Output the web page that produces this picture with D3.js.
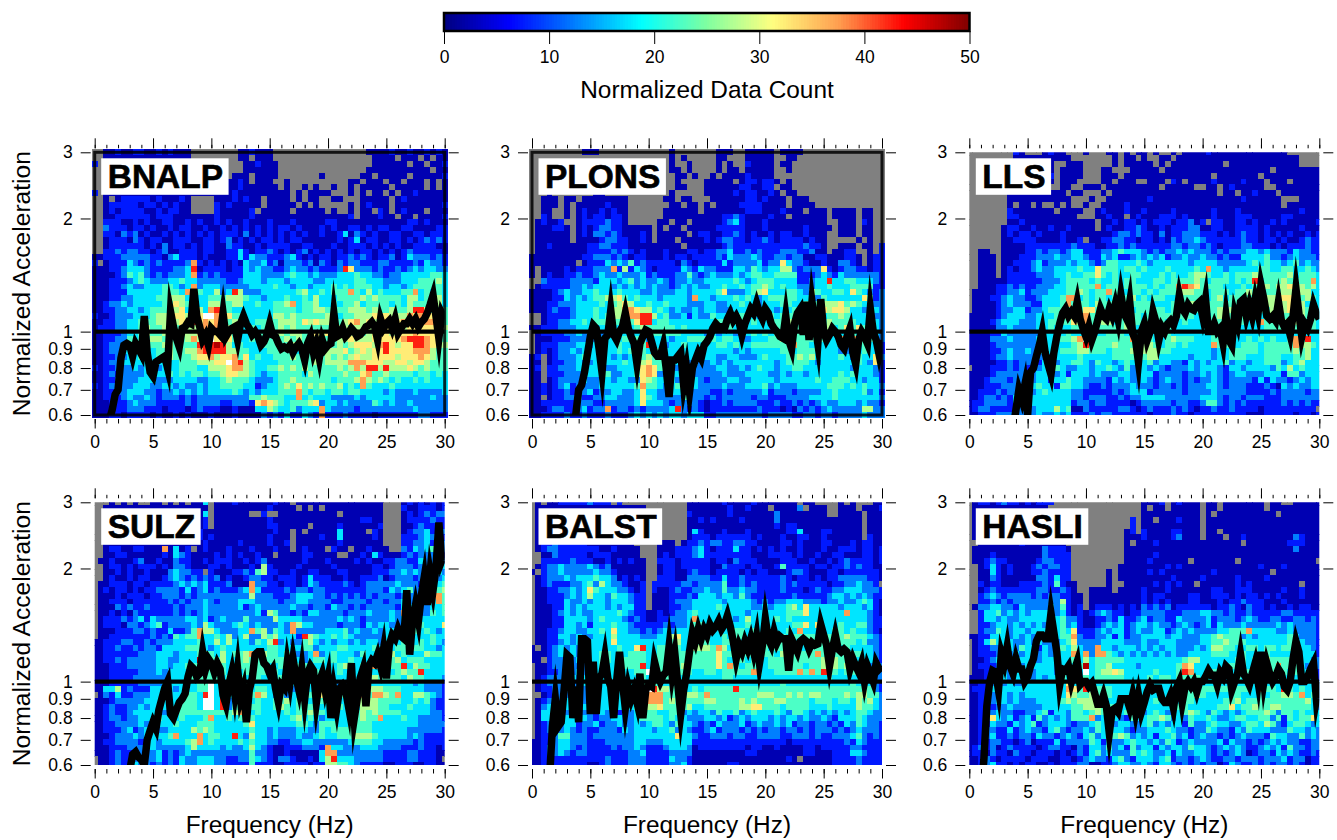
<!DOCTYPE html>
<html lang="en">

<head>
  <meta charset="UTF-8">
  <title>Normalized acceleration</title>
  <script src="https://d3js.org/d3.v7.min.js"></script>
  <style>
    body { margin: 0; background: #fff; }
    text { font-family: "Liberation Sans", Arial, sans-serif; fill: #000; }
    .tick line { stroke: #000; stroke-width: 1; }
  </style>
</head>

<body>
  <div id="my_dataviz"></div>
  <script>

    // frequency bins (Hz), line samples (Hz), tick values
    const freqBins = d3.range(0, 30.5, 0.5);
    const lineFreqs = d3.range(0, 30.25, 0.25);
    const xMajor = [0, 5, 10, 15, 20, 25, 30];
    const xMinor = d3.range(0, 31, 1);
    const yTicks = [0.6, 0.7, 0.8, 0.9, 1, 2, 3];
    const barTicks = [0, 10, 20, 30, 40, 50];

    // jet-like colour bar stops
    const barStops = [0, 6.25, 12.5, 18.75, 25, 31.25, 37.5, 43.75, 50];
    const barColors = ["#00007f", "#0000ff", "#007fff", "#00ffff", "#7fffa0", "#ffff80", "#ff9f50", "#ff0000", "#7f0000"];

    // top row (3) to bottom row (0.6), one char per 0.5 Hz bin:
    // digit d = count about 5d+2.5, "." = no data, "w" = above 50
    const countsBNALP = `
..00100110 0101000... .....00100 0......... .......000 0100100101 0
..00000000 0000000... .....00.00 0......... ........00 00.000.0.0 0
1.00000000 0000000... ......0010 00........ ........00 0000.00.00 1
..00000000 0000000... ......0000 00........ .......000 00000000.0 0
..00000000 0000000000 ....000.00 00.......0 ......00.0 0000.00000 1
..00000000 0000000000 ..00010.00 0..0...... ....00.000 .00.000.0. 0
..00000000 0000000000 0000010000 00.0..0.0. .0..0.0000 0.00000.0. 0
1.00000000 0000000000 0000100000 0000.0.000 0...0.0.00 .0.0010000 0
..0.011111 0100010... .00010100. 0000.0.00. .00...0000 0.01000000 0
..01111101 1010100... .10100000. 00000.0.0. ....0.0100 0.00000000 1
..01011110 0101100... .1000001.0 0000.00000 .0..0.00.1 0.01000.00 0
..00111111 0111000000 0100000100 0000000000 00001.0001 00.00.0000 1
..11100101 0011001010 0101001000 1000100000 1100000000 0000110100 0
..21110110 1001011001 0010101010 1011010001 0100110101 1001100001 1
..11021201 0010101010 1011102010 1010101001 0013021010 0110011011 1
..01110210 1100111001 1012010101 1010110000 0010130110 0110101212 1
..01111110 1020110101 1002110010 1111001100 0100111010 1010011110 0
..11212211 0120011101 1001131011 2101012010 1010101101 0101211111 0
0011122222 1102311101 0001131322 1112310101 1011212101 1201322212 1
1.01113212 1211112710 1010103223 1202221202 1021221112 2111121322 1
0001123332 1111223801 1110113232 2112322121 1128622212 1121232332 2
0000124342 1212223712 1211113332 2223433232 2233343322 1223333344 3
0001112343 2223343322 2221123332 3332333322 3333344333 2223334445 3
0001123223 3344323723 3322222333 3433233233 3434344433 2332344444 3
0001113333 3344437743 3523852223 3333345334 3444743534 3334473434 3
0001122333 3445553533 4445554332 3334334353 3344445454 4443553445 3
0012232333 3344654633 5544553343 3445734453 3434453444 4343544445 3
0011223323 4445563853 7864333333 3444434455 4344555454 4544588643 4
1001222333 4554665 66w w756443333 3554544444 5434455565 6555767664 4
0011223344 4555566867 6754543344 4455546565 5545675656 7667887775 4
0111223345 4454455587 7745553434 4454544444 4455455565 6555666665 5
0011123345 4456555566 6655433444 4454554565 6545554565 6566676665 4
0011224344 5544445753 w666433433 4445454554 4455655566 6667888765 4
0012233333 4455444488 8985343334 4444544645 5454566657 8656688765 5
0012233344 3445445578 8885544333 4444334445 5556456566 8666677754 4
0011223343 3445444566 7566746343 3444544454 5454565566 6656667654 4
0012233333 3333344455 566w785433 3344444454 5555777666 5566566544 4
1011222323 3233344433 5556775433 4454545444 4454575885 8555654544 4
0012122223 3334343443 4456655432 3344443544 4445446744 5444434434 3
0011222233 3222333322 3345444322 2344544444 4344457545 4343343433 3
1012122333 2233232232 3344443312 3345464545 4453437433 3433333333 3
0011223332 2122323232 3333432323 3344474344 3443443333 2322232222 3
0011123223 2122212122 2222222445 4443373433 3222232333 3322222232 2
0001112322 2111112122 2211222167 6543444562 3323222243 2322322222 2
0001112221 1101110121 1100100033 5433423337 3222212222 2222232222 2
0001101111 0100101000 1000100002 1213113217 1112111101 1111112211 1`;

    const countsPLONS = `
.........0 00........ ....0..... ..000..000 00.0000... .......... .
.......... .......... ....0.0... ..00...000 00..00.... .......... .
.......... .......... ....0..0.. ..0.0..100 00.00..... .......... .
.......... .......... ....00.0.. ..0.00.000 00..0..... .......... .
.......... .......... .....00.0. .0.0000100 00........ .......... .
.......... .......... .....0.... 00000.0110 110.0..... .......... .
.......... .......... .....00... 0000001100 11.00..... .......... .
...0...... .00....... ....0..... 0000010110 010.00.... .......... .
..000.00.0 0000000... ...00.00.. .000000110 1000.000.. .......... .
..000.0.00 0001000... ....00.00. 0.00001111 0000.0000. .......... .
..00..0.01 0010100... ...000000. 0000000111 0001000.00 0.0000.00. .
..10..0.01 0110110... ...0000000 0001121000 0100.00000 0.0000.00. .
.01001..01 1112110... ..00.00.00 0001231000 1000000000 0..000.10. .
.000110.01 0122110000 0.0.00.000 0011111000 1000000100 00.000.00. .
.000000.01 0221210001 0.00000.01 1001121010 0101100100 0..000.00. .
.000000.00 0012211001 0.000.0000 1012211011 2101111010 0.....0.0. .
.001000000 1122111000 000000.000 0001211111 1111111211 0..000.00. 1
.000000000 1111212101 0001000110 1122311212 1112221120 0.0011..0. 1
0000000001 1222121011 0001011011 1121322232 1122122001 1000110.01 1
00000000.0 1113232412 1111102101 1113122223 1226322100 1002210.01 1
0.00001011 1222715132 1011113213 2211133243 2335521222 6101221101 1
0.01001121 1232232223 1211122421 2322232344 3344441112 3213222222 1
..21111222 2133323423 2232122322 3333343234 4433331123 3833443332 1
.011111223 2333232323 2322123232 2334334344 5434332223 3433344441 1
0000123223 3433343332 2322233233 3346222345 6333443254 3344364321 2
0000113232 3445564343 3323333273 3233343432 3444443372 4333333641 2
0001122233 3343456533 4334333222 3322334332 3334433454 5556454342 2
0001211233 3433557765 5343232232 3322233323 3323344445 6566533233 2
..01111233 3434557778 8534223132 2433444332 3434444443 3445433332 2
..01122334 3444444468 8344333333 3344444343 3344554444 4544443343 2
0011122233 3233333345 4444434333 3334433333 3344444554 4534646443 2
.011112232 3323323234 5444443333 2323323343 4343444453 3323343433 2
.000111222 2233334444 2333233444 4434432233 3445544444 4337373443 2
.011122233 2333343344 8332334333 3344343344 4444474433 3333233433 1
.010122323 3333343444 3443333333 3333323233 3334434443 3332233433 1
01.0122234 3323232334 5443323333 3322332223 4333445453 3334324336 2
00.0112232 2333334345 6443333232 2323233333 3323444432 3333334326 1
01.1122233 3332233346 7643323322 2233223234 3323344333 3333323332 1
00.1112222 3334223346 7622333222 2223222333 3223233233 3334343332 1
00.0122223 2233233226 5433323332 1222332233 3323333334 3344433233 1
0010123122 2233333347 4432343432 2223222333 4232223333 3444343433 2
0010112122 3122332236 3322334422 2112122222 3122212222 3343333423 1
00.0112221 1223322236 4322224322 1212222212 2111222233 3343333333 2
0011111122 2112222236 3332122221 0112122221 1121121212 3223332322 1
0001221123 1227122121 2222382121 0111111112 1110102121 2322222552 2
0011112112 1112111232 3232332333 1122222222 1222211221 2212222322 2`;

    const countsLLS = `
........10 ...0100... 0...00.0.0 0.0..0.000 0100000000 00000.... .
........00 00000000.. .....0.00. 0..00.0000 0000000000 0000000... .
........00 00000..000 .....0.000 00.0.00000 0000.00000 0000000... .
........00 00000.0000 ...00...00 000.000000 0000000000 00.0000000 0
........00 00001.0000 ...000.000 0000000000 00.0000000 .000000000 0
........00 00000.000. ...00.000. .000.10.00 0010000100 0.000.0000 0
........00 0000..00.. 000.000000 000.00000. .00.010000 0..0000000 0
.......000 0000000.00 ...0.00000 0000000000 000.00.001 000.000000 0
.......000 00000000.. .0..000000 0100000000 0000000100 0000...000 0
.......0.0 0.0..0.0.. 0..0000100 0000000000 0000000000 0000.00000 0
.......100 00000.0000 ..01000100 1000010000 0010001000 0000000100 0
.......110 000000000. ..00100.01 0001110100 0010001110 0000110000 0
.......001 0000000000 00.0010110 1011101120 1.11001101 0010100000 1
......0110 0100100100 00.0100112 1001011122 0011001111 0100000100 0
......0101 1010001000 0000012212 1102011222 1110101211 0101010010 1
......0011 1100001001 .001122110 1101021223 2111111211 0110100121 1
......0000 1111111121 1100112121 1111122122 1210111221 1101011121 1
..00..0000 1121221233 1112234333 2121223232 2212122233 2322213221 1
..000.0001 1122232233 2113231123 2323122322 3221211333 3422123222 1
..000.0011 1231222323 3212443334 3233333323 3332222234 3433234232 2
..000.0101 1232233334 3364443443 4333433334 3733233333 4433443343 2
..000.0111 1122233433 4464343344 3334343345 5433434445 4444453444 3
..00000111 1112223444 4343343443 3344344445 4344434348 3444544447 3
..00011212 1122233444 4473443444 4343447876 4444333434 4545565545 3
.000011223 1222333445 4344743344 3434445554 4344434454 4444555553 3
.000112322 1123334773 4344344453 4344334444 4345344444 4555665454 3
.000012322 2113334744 4354443444 4433344455 5444444455 4555565536 3
.000012233 1223444454 6644344434 4444344444 4445453343 4455565544 3
0000012333 2233345559 7444534344 3444444443 3345443434 3544445544 3
0000123332 2233444465 7445534544 3444333433 3344474433 7444555534 3
0000022322 2233433344 4444444543 3344433333 3344443333 3444444444 3
0000113222 2223333433 3333444343 3333433333 3344433333 3333343433 3
0000222322 2233334457 w444444474 5433454443 3344433343 4343347483 3
0000122222 2233333345 8444454445 5543443433 3374433444 3444447554 3
0000112322 3233334445 5444344454 5554433333 3323344444 3444445453 3
0000122322 2222233334 3333344444 4553333323 3323344433 3444334453 3
0000011212 2213323344 3243323432 3423322132 3233423323 3444234533 3
.000111212 1223343223 3233432422 3232122232 3332133233 3324353433 3
0000122222 1233323133 3232223322 3312222122 3232123322 2333144233 3
0001222122 2233133433 2222132322 3212322121 2232122221 3132212323 3
0001112222 2343314433 2112122232 2212212122 2332122211 1210323223 3
0011121222 2234333322 1111121233 3122222122 2232222211 1121222212 2
0012212133 3333333322 1222112122 3333222222 3332122122 2111222222 2
0112222132 3333333312 2122111101 2222212211 2442121211 1111212121 1
0122111112 3233353400 2111112210 1211121210 1121121111 0111111111 .
0011122232 3232232311 1212211111 1011121101 1111111100 0111110110 1`;

    const countsSULZ = `
...0.0.0.. 00.0.0.003 .000100000 0100.00000 0000000000 ...0101010 1
..00000000 0000000000 .000000000 10000.0.0. 0000000000 ...1001110 1
..00000000 0000000003 .000000..1 ..00000000 00.0000000 ...0101212 2
..00000000 0000000001 .000000000 1000000000 0000001100 ...0111121 1
..00000000 0000000001 .000000000 1100000.00 0010000001 ...0012111 1
..00000000 0000000010 0000000000 0100.0.000 0030000.10 ...0122313 2
..00000000 0000000010 1000000000 1000.00001 0030000010 ...1112322 1
..00000000 0000000001 0000010000 1001.00000 0010000000 ...1122311 2
..01100110 0070301.01 0001000100 0100.01000 .100.00100 0..2132344 2
..00110000 0010321000 0101010010 0.00001100 00..001031 0001212221 1
.001000120 0100211001 0111001012 0000001000 1000010100 1122113223 2
..01101011 1010221000 1101000105 1000010000 0100000011 0122212233 3
..00101001 000232211. 1000112145 1100100110 0011000011 1223232233 2
..01001011 0012321212 1201001221 1011101311 1001001112 0122212332 3
.001110110 1111232323 1112000722 1101101321 1112101222 2232221343 4
.010110101 1222213123 1211123731 1112122122 1111111222 1323422444 5
.000101110 1122212122 2222222522 2111233322 1212121212 2212223377 4
.001110111 1112121223 2122233322 2212233222 2112222122 1223233337 4
.000212112 1111212223 2222231232 2222322122 1322121222 2213322233 4
.001010211 1111212123 2222222231 5422121332 2221222322 2327332243 4
.011121231 3222223323 1232224222 2533332222 2232321222 2323523333 3
.011102212 3412222325 3222343232 2232753322 2212221323 3223334333 6
.000111221 2113112475 5322233745 2432722222 3334232232 3323343432 3
.001111111 2121434473 3435235225 4533318543 3434322222 3323333343 3
0011122112 1222333343 3535333243 5823224532 3233232332 3334434343 2
0011211212 2133334443 2343333333 4433334423 3344333343 3344344332 3
0011111122 2333233345 4353445735 4434222372 3433324333 4534333544 3
0011212222 2332233398 4453345444 4444432344 3433433343 4453444333 3
0001112222 2332334444 5443344444 3343444433 3345334374 4448354433 3
0001111122 2323333445 4343434444 4434444443 3343334433 4345448333 3
0001111222 2223333444 4434443443 3344334433 3333434454 4443544333 2
0001111122 2233333344 w333444333 3333333333 3322334333 3333323222 1
0033512111 3333233344 w344333344 3232243333 3334444555 4443333222 1
.021311222 3333334438 w333344475 3242335446 3344447477 5473355432 1
0001222223 333334443w w382344343 3445343354 4433435554 4443343421 1
0012112232 333334443w w382443443 3454344443 3443435554 4333433321 1
0012112333 3322344444 4444574343 3334344544 3433445454 4443333322 1
0012212233 3433343334 7334343433 3333453432 3333445447 3334332222 1
0011222232 3333433344 4333334633 3333344324 4433444433 3333332222 2
0011123123 3223333545 4333333433 2322233224 3444444433 3333222222 1
0001222323 3334733373 4433832533 2322232234 3344455543 3333232111 1
0011222212 3233334573 4333343433 2211223322 2222344433 2222212111 1
0001112222 3222223533 3323223532 1001112221 7332223332 2221112110 1
0001211122 2312123222 2222222422 1001000003 7722222222 1111221110 0
.001211222 2312132233 3221122432 1022100103 5833322222 1111221110 .
.001211322 1212132233 3221111411 1001111011 5544321111 0011100110 0`;

    const countsBALST = `
.0.0011111 2111.1.... .......000 0001000010 000000.00. ...0.0...0 0
.000000000 0000000000 .......000 0000100100 0.00002.00 0..000.000 1
.000000000 0000000000 .......100 0000100000 0020000000 0..0000.00 0
.000000000 0000000000 .......001 0100001000 0020000000 0000000.00 0
.000000000 0000000000 .......000 0000000000 0010110000 0000000.00 0
.000000000 0000000000 .......031 0001000100 0000113000 1100000.00 0
.000000000 0000000000 .......011 1011111101 0001001100 1000000.10 0
.011211111 00000000.. ..000.0112 1221122110 0001101000 1100010110 0
.012211111 110010000. ..00011123 1011131101 0101001000 1001110110 1
..00211111 011100000. ..01011123 1111111100 0111101001 0011000110 1
..11111211 1001010100 ..11101111 1011021110 0001110010 0101211110 1
.012232222 3212000000 ..01101111 1002111011 0014111101 1011212110 0
0.12232222 2322100000 ..01100121 1011110101 1000122100 0110111111 0
.012223233 3433201010 ..11100222 2113112111 1112101101 0112222211 0
.012111223 4253221001 .111112212 2224112121 1112121111 1011223221 .
.001122323 6433322101 .100121122 3224223221 1112111012 1122333222 1
.001112323 5332433211 .000111213 3323324211 1111121111 1233232321 1
.001113223 2332333211 .000122233 3332333321 2122333222 1223223431 0
.000113232 3332323311 .000112233 3343333322 3233453633 3332333231 0
.000123232 2333343211 0010122343 3333333233 3333444633 3333733321 0
.000113333 2343332121 0011222373 3333323533 3343433333 3333333321 1
.000113323 1333433211 1112122344 3334333433 3333344636 3334334421 1
.001123322 3343633221 2123233344 4333344343 3433437333 3344343321 0
.001133232 2333533332 2233563344 3334344344 3434344443 3444544432 1
.001123232 3333633333 3333453344 4334443434 4344433344 4444443422 1
0.01232322 3333343368 3344443555 5475333334 4344343344 4543433332 1
0001232323 3344343444 3344544444 4464443435 4435444447 4544444332 1
00.1223232 3344334444 3444444444 4464354344 3444344444 5654443332 1
.001223222 3343334448 3344545444 4464743444 3444444344 5754554323 2
.001122232 3333333344 w444344433 4434444474 3344447474 8643443333 2
.012222323 2333333334 3334333333 3334433333 3333333333 3433333332 2
.012222223 3333323334 4433333333 3333333333 3334333333 3333343332 1
.011223232 3333333333 w855443343 4444484444 4444444444 4444444542 1
..01222232 3333333334 7774444554 7444444445 5544545455 4444545544 2
.012223222 3333333334 7774544444 5544445454 4455444434 4434435453 2
.023333223 2333333344 5564444533 4444445566 4443444433 3433335443 2
.033332332 2132312234 4433442323 3243342343 3343244323 2323234432 2
.033213323 2122332234 4443433222 3323123233 3232332322 3213334322 2
.012223312 2312232232 3443243321 2132223123 2232312212 2121324322 1
.012123212 1122213233 3233423211 2312221212 1221221212 2212123222 1
.011244222 1222222233 3333363321 1222122112 2221122212 1122234212 1
0011233222 1112222233 2223333311 1111111111 1111011111 1111213211 1
0012233212 1111212232 1112333201 1111111011 0010000110 1111122111 1
0012232122 1111111223 1111222200 0000000110 0000000110 0011133211 1
0012111111 1112111222 1111322100 0000000000 000010.000 0011112111 1
0011111111 0012111222 1111223100 0000110000 0000000000 0011112111 1`;

    const countsHASLI = `
.011012110 10111..... .......... 0001.01000 .00.000000 0.00..0000 0
.000000000 0000...... .......... 0.00.00000 .00.000000 0.00000000 0
.000000000 0000...... .......... 0000000000 .0.0000000 000.000000 0
.000000000 0000...... ........1. 00.0001000 .000000000 0000000000 0
.000000000 0000...... ........1. 0000000000 .000000000 0000000000 0
.000000000 0000...... .......01. 1000011000 .00.000000 0000000000 0
.000000000 0000...... .......000 1000012000 .000.00100 0000002100 0
..00000001 0000000... .......0.0 0010000000 0000000.00 0000011100 0
.000000000 00021110.. .......000 0000000000 0000000000 0000002000 0
.000100000 00021111.. .......000 0010000000 0000000000 0000000000 0
.001211000 00122111.. .......000 01000000.0 000000.000 0000000000 .
..01310100 01212211.. ......0000 0000101000 0000000000 1000100000 0
..00310100 01121111.. ....0.0000 0101000000 0010000000 00.0000000 0
..00210000 00221311.. ....0.0000 0000010000 1000001000 0100000000 0
..10110001 111214100. ....0..000 001010100. 0000001010 0000000.00 0
..01211111 112211210. .0000.0000 1000100000 0011001110 0000100100 0
..12321222 2121221100 .000000000 1011000011 0011101011 0101000100 0
..11212122 2222225100 .000000000 1010100011 0001011211 1000100000 0
.022332213 2222324101 .011101010 2121201111 1101121021 1010010110 0
..13342323 2333223101 0123211011 2222111222 3322121121 1111221111 1
..13323223 3333334221 0011213112 3122113222 2312221232 1122112212 1
..11233232 3232334231 0012323123 3232212321 2313222322 2223232222 1
..12243233 2333234361 1123233123 2233123232 2223344473 3332232222 1
0011333232 3232334472 1122313122 3333233222 3345444232 3333343222 1
.013533322 3232223462 2223333222 3223332222 3344544433 3333343322 1
.011223324 3313224353 2273323332 3232332223 2355443344 3443444332 1
.011123232 3223223373 7277432323 2323232233 3344433433 3433334333 1
.001232323 3323323343 5344444333 3333333455 3333334434 3544443332 2
.011123232 3333323434 9344533332 3333334763 3333443433 3747444323 2
.001223233 2233323433 w345565333 3343334873 3343333444 4344434333 1
0001123233 3232334343 4344444333 3434434444 3333344333 3334333333 1
0011222322 3333333633 3333333333 3333333333 3333333333 3333333333 2
0111333333 3333333764 8444433334 3333334344 4444444443 7443843433 2
0011223232 3333333654 4544433334 3333334445 4333344333 4344554734 2
0012233232 2233334545 5544333333 3343333443 3333445344 4444444453 2
0012122322 2223333344 5554443333 3333344433 3334463445 4455444443 2
0011232211 2234133244 3454323432 2343243454 3243232344 4542443433 3
0012632312 3142323244 4723332143 3445423243 3432234433 4424143446 3
0011322132 3412333212 2343323322 3423233142 2343322344 3542134432 3
0012211312 3221342122 3243533212 2333432212 2432213243 3322243323 2
0012311212 2132212321 3423545423 2313342312 3221212322 2143322423 2
0011221101 2011131222 2431322343 3232431232 2223132212 1232322112 2
0121201211 1101221102 1332423142 3313233243 3212323211 2323142212 2
0110211021 1011101012 1342322243 4322313223 3212123201 2213232112 1
0012101111 0111001101 2322134213 3323412212 3211221222 1222312201 1
0012311010 1100101112 2001123322 3213321212 1220132112 1212212101 1`;

    // black curves, one value per 0.25 Hz, values under 0.6 run off the bottom
    const lineBNALP = [.4, .4, .4, .4, .4, .58, .62, .68, .7, .85, .92, .93, .92, .86, .93, .9, .87, 1.1, .88, .78,
      .76, .83, .84, .85, .86, .8, 1.13, 1.03, .96, .91, 1.02, 1.03, 1.06, 1.05, 1.3, 1.1, 1.03, .95, .98, .92,
      1.02, 1.0, 1.0, .98, 1.12, .97, 1.0, 1.02, 1.03, .95, 1.05, 1.1, 1.05, 1.02, .98, 1.0, .97, .92, .94, .98,
      1.05, .98, .97, .93, .9, .91, .9, .92, .88, .91, .93, .9, .84, .93, .97, .88, .93, .85, .95, .9,
      .92, .93, 1.12, .97, .98, 1.02, .97, .99, 1.02, 1.0, .97, .98, 1.0, 1.03, 1.04, 1.06, 1.03, .95, 1.08, 1.02,
      1.05, 1.07, 1.02, 1.08, .99, 1.02, 1.05, 1.05, 1.08, 1.05, 1.08, 1.03, 1.06, 1.08, 1.12, 1.18, 1.25, 1.1, .96, 1.12,
      1.08];
    const linePLONS = [.4, .4, .4, .4, .4, .4, .4, .4, .4, .4, .4, .4, .4, .4, .4, .6, .7, .72, .78, .87,
      .97, 1.04, 1.02, .9, .78, .96, .98, 1.14, .98, .95, 1.0, 1.03, 1.12, 1.02, .97, .93, .82, .93, .97, 1.01,
      1.0, .94, .88, .86, .86, .92, .8, .67, .84, .84, .86, .88, .72, .8, .69, .8, .84, .88, .85, .92,
      .94, .97, 1.02, 1.05, 1.03, 1.03, 1.02, 1.08, 1.12, 1.07, 1.1, 1.06, .98, 1.05, 1.1, 1.15, 1.12, 1.19, 1.12, 1.08,
      1.15, 1.12, 1.05, 1.02, 1.0, .97, .96, 1.1, .95, .9, 1.05, 1.12, 1.15, .98, 1.2, .95, 1.2, 1.05, .93, 1.22,
      1.0, .95, .98, 1.02, 1.0, .97, .92, .9, .97, 1.02, .88, .82, .95, 1.0, .97, .93, 1.15, 1.0, .95, .87,
      .95];
    const lineLLS = [.4, .4, .4, .4, .4, .4, .4, .4, .4, .4, .4, .4, .4, .4, .4, .55, .62, .7, .66, .72,
      .6, .78, .8, .86, .92, 1.0, .88, .82, .77, .88, .97, 1.05, 1.12, 1.15, 1.1, 1.13, 1.1, 1.2, 1.08, 1.02,
      .97, 1.03, .95, 1.0, 1.07, 1.15, 1.1, 1.08, 1.15, 1.1, 1.18, 1.08, 1.25, 1.12, 1.08, 1.2, .99, .95, .83, 1.0,
      1.05, .95, 1.0, 1.13, 1.06, .95, 1.03, 1.0, 1.05, 1.07, 1.04, 1.1, 1.25, 1.15, 1.12, 1.18, 1.15, 1.14, 1.18, 1.2,
      1.1, 1.22, 1.0, 1.0, 1.05, 1.0, 1.02, .93, 1.1, .95, .92, 1.12, 1.05, 1.2, 1.22, 1.1, 1.18, 1.1, 1.22, 1.12,
      1.33, 1.22, 1.1, 1.08, 1.1, 1.07, 1.2, 1.07, 1.03, 1.05, .98, 1.1, 1.3, 1.12, .97, 1.05, 1.02, 1.08, 1.18, 1.12,
      1.08];
    const lineSULZ = [.4, .4, .4, .4, .4, .4, .4, .4, .4, .4, .4, .4, .58, .64, .65, .63, .62, .6, .7, .74,
      .78, .75, .84, .9, .96, 1.0, .82, .8, .84, .88, .9, .93, 1.03, 1.1, 1.08, 1.03, 1.05, 1.2, 1.08, 1.15,
      1.12, 1.06, 1.12, 1.08, .92, .87, .98, 1.06, .93, 1.08, .9, .96, .78, .95, 1.02, 1.18, 1.2, 1.2, 1.12, 1.1,
      1.05, 1.08, .96, .88, .98, .96, 1.12, 1.0, 1.15, 1.03, .95, 1.08, .9, 1.05, 1.1, 1.07, .88, 1.0, 1.05, .95,
      1.03, .8, .95, .85, .96, .98, .95, .86, 1.12, .8, .9, 1.02, 1.08, .86, 1.1, 1.14, 1.12, 1.18, 1.1, 1.22,
      1.02, 1.25, 1.33, 1.3, 1.38, 1.32, 1.3, 1.75, 1.18, 1.45, 1.6, 1.45, 1.7, 1.9, 1.6, 1.95, 1.75, 2.0, 2.65, 2.1,
      2.2];
    const lineBALST = [.4, .4, .4, .4, .4, .4, .55, .76, .9, .76, .78, .95, 1.18, 1.16, .8, .97, .78, 1.3, 1.3, 1.28,
      .82, 1.13, .82, 1.02, 1.05, 1.17, 1.02, .97, .8, 1.0, 1.2, 1.0, .85, .97, .9, .95, .88, 1.05, .8, .95,
      .98, .97, 1.13, 1.05, 1.0, 1.04, 1.06, 1.24, 1.05, 1.18, .98, .82, .95, 1.05, 1.2, 1.35, 1.28, 1.38, 1.3, 1.38,
      1.33, 1.42, 1.37, 1.4, 1.45, 1.38, 1.42, 1.5, 1.4, 1.28, 1.15, 1.25, 1.2, 1.28, 1.22, 1.3, 1.2, 1.32, 1.12, 1.25,
      1.47, 1.3, 1.25, 1.36, 1.27, 1.32, 1.3, 1.3, 1.07, 1.3, 1.25, 1.2, 1.28, 1.3, 1.28, 1.22, 1.27, 1.25, 1.26, 1.42,
      1.33, 1.25, 1.1, 1.22, 1.33, 1.22, 1.2, 1.22, 1.2, 1.08, 1.15, 1.1, 1.06, 1.12, 1.0, 1.1, 1.05, 1.0, 1.12, 1.08,
      1.1];
    const lineHASLI = [.4, .4, .4, .4, .5, .62, .86, 1.0, 1.07, 1.06, .95, 1.19, 1.12, 1.24, 1.1, 1.05, 1.15, 1.08, 1.08, 1.0,
      1.03, 1.1, 1.15, 1.28, 1.33, 1.33, 1.3, 1.3, 1.52, 1.35, 1.2, .98, 1.08, 1.07, 1.1, 1.0, 1.07, 1.13, .98, 1.0,
      1.0, .97, .99, .93, .87, .87, .92, .86, .73, .84, .85, .83, .9, .9, .9, .85, .92, .83, .92, .83,
      .88, .94, .98, .95, .96, .96, .9, .88, .88, .92, .85, .96, 1.0, .88, .97, 1.0, .97, 1.0, .94, 1.0,
      1.0, 1.03, 1.07, 1.04, 1.04, .98, 1.06, 1.03, 1.1, 1.08, .95, 1.0, 1.05, 1.18, 1.05, 1.02, .98, 1.05, 1.12, 1.0,
      1.2, 1.0, 1.12, 1.05, 1.0, 1.03, 1.08, 1.05, .97, .95, 1.0, 1.15, 1.28, 1.2, 1.0, 1.0, 1.03, 1.08, 1.12, .9,
      1.0];

    const stations = [
      { name: "BNALP", counts: countsBNALP, line: lineBNALP, col: 0, row: 0, boxed: true },
      { name: "PLONS", counts: countsPLONS, line: linePLONS, col: 1, row: 0, boxed: true },
      { name: "LLS", counts: countsLLS, line: lineLLS, col: 2, row: 0, boxed: false },
      { name: "SULZ", counts: countsSULZ, line: lineSULZ, col: 0, row: 1, boxed: false },
      { name: "BALST", counts: countsBALST, line: lineBALST, col: 1, row: 1, boxed: false },
      { name: "HASLI", counts: countsHASLI, line: lineHASLI, col: 2, row: 1, boxed: false }
    ];

    // page layout
    const colLeft = [94.7, 532, 969.3];
    const rowTop = [152.3, 502.3];
    const plotW = 350, plotH = 262.7;
    const nRows = 46;

    const svg = d3.select("#my_dataviz")
      .append("svg")
      .attr("width", 1337)
      .attr("height", 840)
      .style("display", "block");

    const barColor = d3.scaleLinear().domain(barStops).range(barColors).interpolate(d3.interpolateRgb);

    // turns one char of a grid row into a count
    function charToCount(c) {
      if (c === ".") return null;
      if (c === "w") return 55;
      return +c * 5 + 2.5;
    }

    function cellColor(v) {
      if (v === null) return "#808080";
      if (v > 50) return "#ffffff";
      return barColor(v);
    }

    function drawPanel(st, i) {
      const left = colLeft[st.col], top = rowTop[st.row];
      const g = svg.append("g").attr("transform", `translate(${left},${top})`);

      const x = d3.scaleLinear().domain([0, 30]).range([0, plotW]);
      const y = d3.scaleLog().domain([0.6, 3]).range([plotH, 0]);

      const clipId = "clip" + i;
      g.append("clipPath").attr("id", clipId)
        .append("rect").attr("width", plotW).attr("height", plotH);

      // heat map cells
      const rows = st.counts.trim().split("\n").map(r => r.replace(/\s/g, ""));
      const cells = [];
      rows.forEach((r, ri) => {
        freqBins.forEach((f, ci) => {
          cells.push({ f: f, row: ri, v: charToCount(r[ci] || r[r.length - 1]) });
        });
      });
      const cellW = x(0.5) - x(0), cellH = plotH / (nRows - 1);
      const heat = g.append("g").attr("shape-rendering", "crispEdges");
      if (!st.boxed) heat.attr("clip-path", `url(#${clipId})`);
      heat.selectAll("rect")
        .data(cells)
        .join("rect")
        .attr("x", d => x(d.f) - cellW / 2)
        .attr("y", d => d.row * cellH - cellH / 2)
        .attr("width", cellW + 0.3)
        .attr("height", cellH + 0.3)
        .attr("fill", d => cellColor(d.v));

      // reference line at 1, then the curve
      const marks = g.append("g").attr("clip-path", `url(#${clipId})`);
      marks.append("line")
        .attr("x1", x(0)).attr("x2", x(30))
        .attr("y1", y(1)).attr("y2", y(1))
        .attr("stroke", "#000").attr("stroke-width", 4.2);
      marks.append("path")
        .datum(st.line)
        .attr("fill", "none")
        .attr("stroke", "#000")
        .attr("stroke-width", 7.5)
        .attr("stroke-linejoin", "miter")
        .attr("stroke-miterlimit", 10)
        .attr("d", d3.line().x((d, k) => x(lineFreqs[k])).y(d => y(d)));

      if (st.boxed) {
        g.append("rect")
          .attr("width", plotW).attr("height", plotH)
          .attr("fill", "none").attr("stroke", "#000").attr("stroke-width", 3)
          .attr("stroke-opacity", 0.85);
      }

      // station label
      const label = g.append("g").attr("transform", "translate(6.5,6)");
      const labelRect = label.append("rect").attr("fill", "#fff").attr("height", 36.5);
      const labelText = label.append("text")
        .attr("x", 6.5).attr("y", 30)
        .attr("font-size", 33.5).attr("font-weight", "bold")
        .attr("stroke", "#000").attr("stroke-width", 0.6)
        .text(st.name);
      labelRect.attr("width", labelText.node().getComputedTextLength() + 12);

      // axes sit away from the plot and have no domain line
      const gap = 4;
      const xBottom = g.append("g").attr("transform", `translate(0,${plotH + gap})`)
        .call(d3.axisBottom(x).tickValues(xMajor).tickSize(9.5).tickPadding(7).tickFormat(d3.format("d")));
      xBottom.select(".domain").remove();
      xBottom.selectAll("text").attr("font-size", 17.5);
      const xBottomMinor = g.append("g").attr("transform", `translate(0,${plotH + gap})`)
        .call(d3.axisBottom(x).tickValues(xMinor).tickSize(4.5).tickFormat(""));
      xBottomMinor.select(".domain").remove();

      const xTop = g.append("g").attr("transform", `translate(0,${-gap})`)
        .call(d3.axisTop(x).tickValues(xMajor).tickSize(10).tickFormat(""));
      xTop.select(".domain").remove();
      const xTopMinor = g.append("g").attr("transform", `translate(0,${-gap})`)
        .call(d3.axisTop(x).tickValues(xMinor).tickSize(3.5).tickFormat(""));
      xTopMinor.select(".domain").remove();

      const yLeft = g.append("g").attr("transform", `translate(${-gap},0)`)
        .call(d3.axisLeft(y).tickValues(yTicks).tickSize(10).tickPadding(8).tickFormat(d => d));
      yLeft.select(".domain").remove();
      yLeft.selectAll("text").attr("font-size", 17.5);
      const yRight = g.append("g").attr("transform", `translate(${plotW + gap},0)`)
        .call(d3.axisRight(y).tickValues(yTicks).tickSize(10).tickFormat(""));
      yRight.select(".domain").remove();

      svg.selectAll("text").style("fill", "#000");

      if (st.row === 1) {
        g.append("text")
          .attr("x", plotW / 2).attr("y", plotH + 68)
          .attr("text-anchor", "middle").attr("font-size", 24.4)
          .text("Frequency (Hz)");
      }
      if (st.col === 0) {
        g.append("text")
          .attr("transform", `translate(${30 - left},${plotH / 2}) rotate(-90)`)
          .attr("text-anchor", "middle").attr("font-size", 24.6)
          .text("Normalized Acceleration");
      }
    }

    stations.forEach(drawPanel);

    // colour bar
    const barX = d3.scaleLinear().domain([0, 50]).range([444, 969.5]);
    const bar = svg.append("g").attr("shape-rendering", "crispEdges");
    bar.selectAll("rect")
      .data(d3.range(0, 50, 0.25))
      .join("rect")
      .attr("x", d => barX(d))
      .attr("y", 13)
      .attr("width", barX(0.25) - barX(0) + 0.4)
      .attr("height", 18)
      .attr("fill", d => barColor(d + 0.125));
    svg.append("rect")
      .attr("x", barX(0)).attr("y", 13)
      .attr("width", barX(50) - barX(0)).attr("height", 18)
      .attr("fill", "none").attr("stroke", "#000").attr("stroke-width", 2.5);
    const barAxis = svg.append("g").attr("transform", "translate(0,31)")
      .call(d3.axisBottom(barX).tickValues(barTicks).tickSize(13).tickPadding(7).tickFormat(d3.format("d")));
    barAxis.select(".domain").remove();
    barAxis.selectAll("text").attr("font-size", 17.5);
    svg.append("text")
      .attr("x", 707).attr("y", 97.5)
      .attr("text-anchor", "middle").attr("font-size", 24.4)
      .text("Normalized Data Count");

  </script>
</body>

</html>
